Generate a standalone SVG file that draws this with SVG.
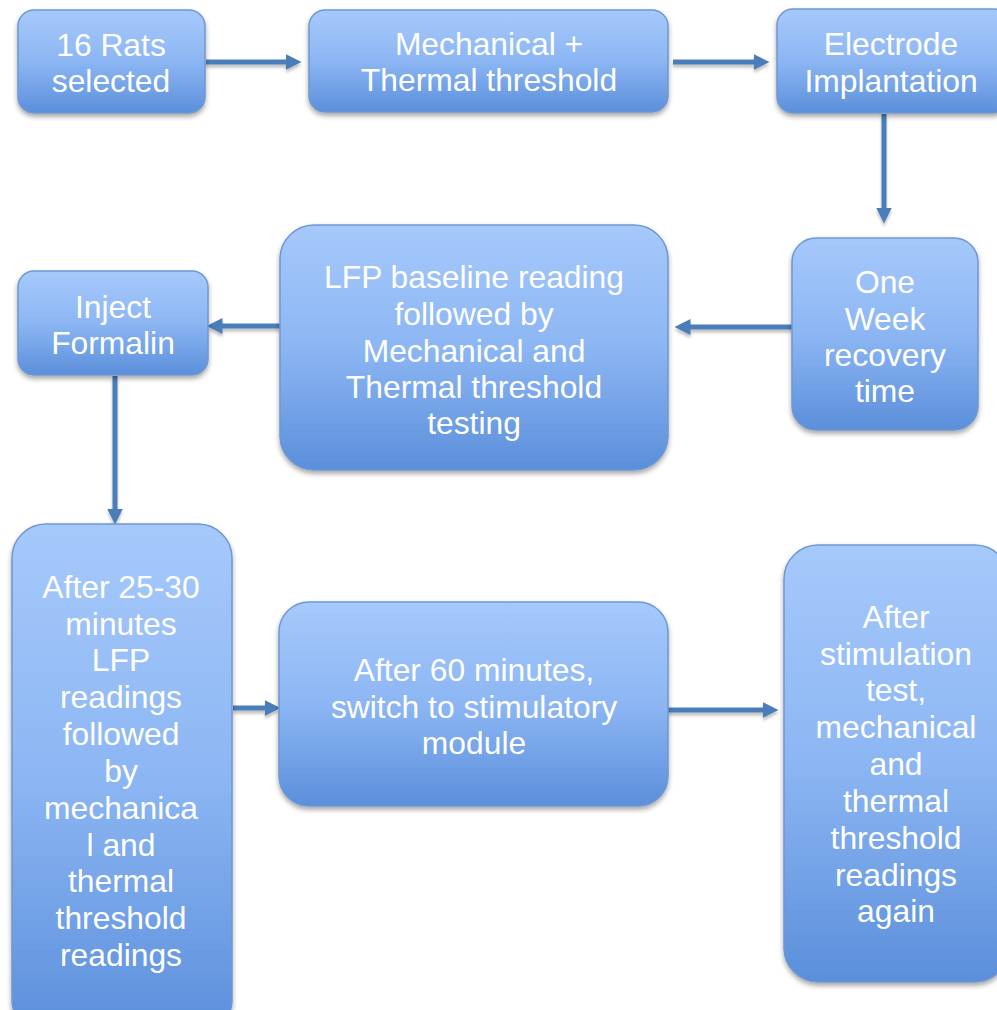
<svg xmlns="http://www.w3.org/2000/svg" width="997" height="1010" viewBox="0 0 997 1010">
<style>
.box{fill:url(#g);stroke:#6f98d0;stroke-width:1.5;filter:url(#sh)}
.t{font-family:"Liberation Sans",Arial,sans-serif;font-size:31.8px;fill:#ffffff;text-anchor:middle}
.c{stroke:#4a7ebb;stroke-width:5;fill:none;marker-end:url(#ah)}
</style>
<defs>
<linearGradient id="g" x1="0" y1="0" x2="0" y2="1">
<stop offset="0" stop-color="#a6c9fb"/>
<stop offset="0.5" stop-color="#8cb6f3"/>
<stop offset="1" stop-color="#5b8fdb"/>
</linearGradient>
<filter id="sh" x="-10%" y="-10%" width="120%" height="125%">
<feDropShadow dx="0" dy="3" stdDeviation="2.5" flood-color="#000" flood-opacity="0.35"/>
</filter>
<filter id="ls" filterUnits="userSpaceOnUse" x="0" y="0" width="997" height="1010">
<feDropShadow dx="0" dy="3" stdDeviation="1.5" flood-color="#000" flood-opacity="0.25"/>
</filter>
<marker id="ah" markerWidth="4" markerHeight="4" refX="0.5" refY="2" orient="auto" markerUnits="strokeWidth">
<path d="M0,0.4 L3.2,2 L0,3.6 Z" fill="#4a7ebb"/>
</marker>
</defs>
<rect width="997" height="1010" fill="#ffffff"/>
<g id="connectors" filter="url(#ls)">
<path class="c" d="M206,62 H288"/>
<path class="c" d="M673,62 H756"/>
<path class="c" d="M884,114 V210"/>
<path class="c" d="M792,327 H688"/>
<path class="c" d="M280,326 H220"/>
<path class="c" d="M115,376 V511"/>
<path class="c" d="M233,708 H267"/>
<path class="c" d="M668,710 H765"/>
</g>
<g id="n1"><rect class="box" x="18" y="10" width="187" height="103" rx="16"/>
<text class="t" x="111" y="56">16 Rats</text><text class="t" x="111" y="92">selected</text></g>
<g id="n2"><rect class="box" x="309" y="10" width="359" height="102" rx="16"/>
<text class="t" x="489" y="55">Mechanical +</text><text class="t" x="489" y="91">Thermal threshold</text></g>
<g id="n3"><rect class="box" x="777" y="9" width="232" height="104" rx="16"/>
<text class="t" x="891" y="55">Electrode</text><text class="t" x="891" y="92">Implantation</text></g>
<g id="n4"><rect class="box" x="792" y="238" width="186" height="192" rx="24"/>
<text class="t" x="885" y="293">One</text><text class="t" x="885" y="330">Week</text><text class="t" x="885" y="366">recovery</text><text class="t" x="885" y="402">time</text></g>
<g id="n5"><rect class="box" x="280" y="225" width="388" height="245" rx="34"/>
<text class="t" x="474" y="288">LFP baseline reading</text><text class="t" x="474" y="325">followed by</text><text class="t" x="474" y="362">Mechanical and</text><text class="t" x="474" y="398">Thermal threshold</text><text class="t" x="474" y="434">testing</text></g>
<g id="n6"><rect class="box" x="18" y="271" width="190" height="104" rx="16"/>
<text class="t" x="113" y="318">Inject</text><text class="t" x="113" y="354">Formalin</text></g>
<g id="n7"><rect class="box" x="12" y="524" width="220" height="510" rx="34"/>
<text class="t" x="121" y="598">After 25-30</text><text class="t" x="121" y="635">minutes</text><text class="t" x="121" y="671">LFP</text><text class="t" x="121" y="708">readings</text><text class="t" x="121" y="745">followed</text><text class="t" x="121" y="782">by</text><text class="t" x="121" y="819">mechanica</text><text class="t" x="121" y="856">l and</text><text class="t" x="121" y="892">thermal</text><text class="t" x="121" y="929">threshold</text><text class="t" x="121" y="966">readings</text></g>
<g id="n8"><rect class="box" x="279" y="602" width="389" height="204" rx="30"/>
<text class="t" x="474" y="681">After 60 minutes,</text><text class="t" x="474" y="718">switch to stimulatory</text><text class="t" x="474" y="754">module</text></g>
<g id="n9"><rect class="box" x="784" y="545" width="225" height="437" rx="34"/>
<text class="t" x="896" y="628">After</text><text class="t" x="896" y="665">stimulation</text><text class="t" x="896" y="701">test,</text><text class="t" x="896" y="738">mechanical</text><text class="t" x="896" y="775">and</text><text class="t" x="896" y="812">thermal</text><text class="t" x="896" y="849">threshold</text><text class="t" x="896" y="886">readings</text><text class="t" x="896" y="922">again</text></g>
</svg>
